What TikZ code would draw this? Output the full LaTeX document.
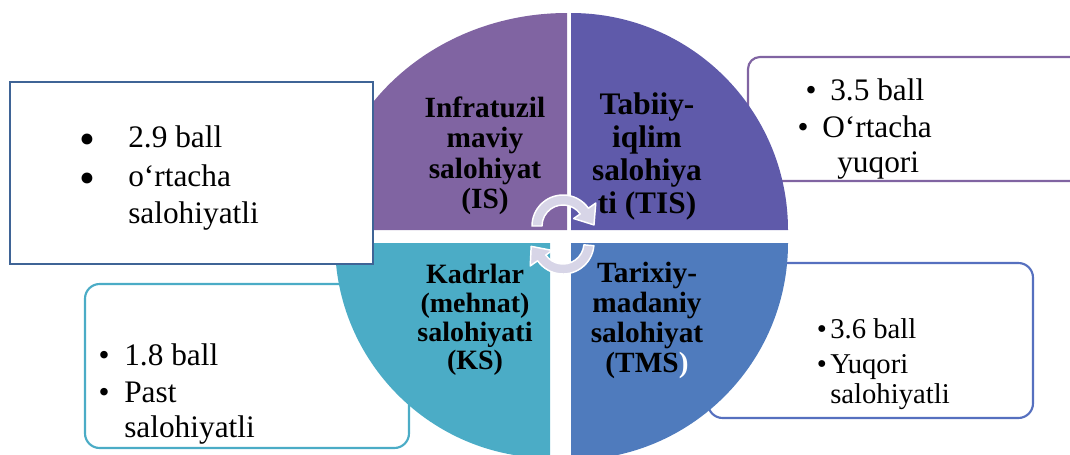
\documentclass[tikz,border=0pt]{standalone}
\usepackage{fontspec}
\setmainfont{Liberation Serif}
\definecolor{cIS}{HTML}{8064A2}
\definecolor{cTIS}{HTML}{5F5AAA}
\definecolor{cTMS}{HTML}{4F7BBD}
\definecolor{cKS}{HTML}{4BACC6}
\definecolor{cArr}{HTML}{D7D5E7}
\definecolor{cBa}{HTML}{3F6496}
\definecolor{cBd}{HTML}{5670BF}
\tikzset{
  qtext/.style={anchor=base, inner sep=0pt, font=\bfseries\fontsize{#1}{#1}\selectfont},
  btext/.style={anchor=base west, inner sep=0pt, font=\fontsize{#1}{#1}\selectfont},
  bul/.style={anchor=base, inner sep=0pt, font=\fontsize{#1}{#1}\selectfont},
  arrowband/.style={fill=cArr, draw=white, line width=1.1pt, line join=round},
  boxa/.style={draw=cBa, line width=1.9pt, fill=white},
  boxb/.style={draw=cKS, line width=1.6pt, fill=white, rounded corners=11pt},
  boxc/.style={draw=cIS, line width=1.6pt, fill=white, rounded corners=9pt},
  boxd/.style={draw=cBd, line width=1.6pt, fill=white, rounded corners=11pt},
}
\begin{document}
\begin{tikzpicture}[x=0.75pt,y=-0.75pt]
\useasboundingbox (0,0) rectangle (1070,454);
\clip (0,0) rectangle (1070,454);
% outer boxes behind the circle
\draw[boxb] (85,284) rectangle (409,448);
\draw[boxc] (748,57) rectangle (1090,181);
\draw[boxd] (708,263) rectangle (1033,418);
% quadrants
\fill[cIS] (567,230) -- (327,230) arc[start angle=180, end angle=270, x radius=240, y radius=217] -- cycle;
\fill[cTIS] (571,230) -- (571,13) arc[start angle=270, end angle=360, radius=217] -- cycle;
\fill[cTMS] (571,243) -- (788,243) arc[start angle=0, end angle=90, radius=217] -- cycle;
\fill[cKS] (550,243) -- (550,458) arc[start angle=90, end angle=180, radius=215] -- cycle;
% central cycle arrows
\coordinate (ca) at (563,226);
\coordinate (cb) at (563,243);
\path[arrowband] ([shift={(ca)}]180:31) arc[start angle=180, end angle=325, radius=31]
  -- ([shift={(ca)}]325:40) -- ([shift={(ca)}]358:31) -- ([shift={(ca)}]325:13)
  -- ([shift={(ca)}]325:21) arc[start angle=325, end angle=180, radius=21] -- cycle;
\path[arrowband] ([shift={(cb)}]5:31) arc[start angle=5, end angle=145, radius=31]
  -- ([shift={(cb)}]145:40) -- ([shift={(cb)}]174:32) -- ([shift={(cb)}]145:13)
  -- ([shift={(cb)}]145:21) arc[start angle=145, end angle=5, radius=21] -- cycle;
% left top box in front
\draw[boxa] (10,82) rectangle (373,264);
% quadrant texts
\node[qtext=22] (is1) at (485,117) {Infratuzil};
\node[qtext=22] (is2) at (485,147) {maviy};
\node[qtext=22] (is3) at (485,178) {salohiyat};
\node[qtext=22] (is4) at (485,208) {(IS)};
\node[qtext=23.5] (tis1) at (647,114) {Tabiiy-};
\node[qtext=23.5] (tis2) at (647,147) {iqlim};
\node[qtext=23.5] (tis3) at (647,180) {salohiya};
\node[qtext=23.5] (tis4) at (647,213) {ti (TIS)};
\node[qtext=21] (ks1) at (475,283) {Kadrlar};
\node[qtext=21] (ks2) at (475,312) {(mehnat)};
\node[qtext=21] (ks3) at (475,341) {salohiyati};
\node[qtext=21] (ks4) at (475,369) {(KS)};
\node[qtext=22] (tms1) at (647,282) {Tarixiy-};
\node[qtext=22] (tms2) at (647,312) {madaniy};
\node[qtext=22] (tms3) at (647,342) {salohiyat};
\node[qtext=22] (tms4) at (647,372) {(TMS\textcolor{white}{)}};
% box 1 text
\node[bul=34] (a1b) at (87,154) {•};
\node[bul=34] (a2b) at (87,193) {•};
\node[btext=23.5] (a1) at (128,147) {2.9 ball};
\node[btext=23.5] (a2) at (128,186) {o‘rtacha};
\node[btext=23.5] (a3) at (128,223) {salohiyatli};
% box 2 text
\node[bul=23.5] (b1b) at (104,365) {•};
\node[bul=23.5] (b2b) at (104,402) {•};
\node[btext=23.5] (b1) at (124,365) {1.8 ball};
\node[btext=23.5] (b2) at (124,402) {Past};
\node[btext=23.5] (b3) at (124,437) {salohiyatli};
% box 3 text
\node[bul=23.5] (c1b) at (811,100) {•};
\node[bul=23.5] (c2b) at (803,137) {•};
\node[btext=23.5] (c1) at (830,100) {3.5 ball};
\node[btext=23.5] (c2) at (822,137) {O‘rtacha};
\node[btext=23.5] (c3) at (837,172) {yuqori};
% box 4 text
\node[bul=21.5] (d1b) at (822,338) {•};
\node[bul=21.5] (d2b) at (822,373) {•};
\node[btext=21.5] (d1) at (830,338) {3.6 ball};
\node[btext=21.5] (d2) at (830,373) {Yuqori};
\node[btext=21.5] (d3) at (830,403) {salohiyatli};
\end{tikzpicture}
\end{document}
